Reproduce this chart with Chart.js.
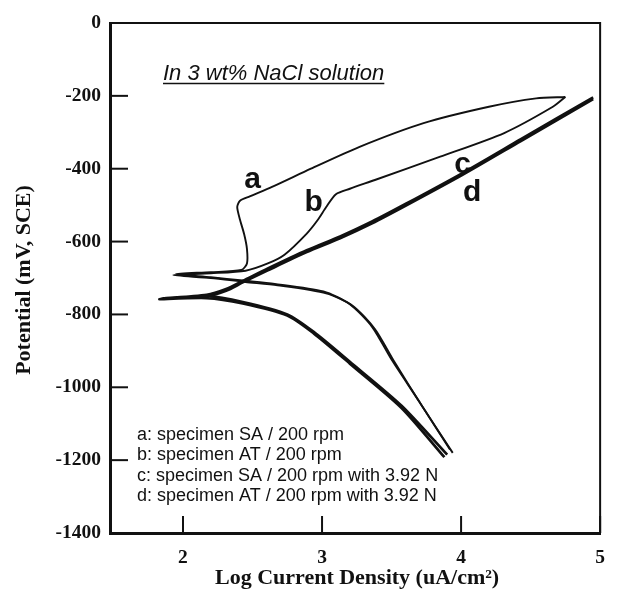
<!DOCTYPE html>
<html>
<head>
<meta charset="utf-8">
<script src="https://cdn.jsdelivr.net/npm/chart.js@4.4.0/dist/chart.umd.min.js"></script>
<style>
  html, body { margin: 0; padding: 0; background: #fff; }
  #wrap { width: 618px; height: 591px; position: relative; }
</style>
</head>
<body>
<div id="wrap"><canvas id="chart" width="618" height="591"></canvas></div>
<script>
// --- axis ticks ---
const xTicks = [2, 3, 4, 5];
const yTicks = [0, -200, -400, -600, -800, -1000, -1200, -1400];

// --- curve a: SA / 200 rpm (cathodic tail -> Ecorr -> anodic) ---
const aLogI = [3.92, 3.70, 3.50, 3.36, 3.20, 3.01, 2.66, 2.43, 2.20, 1.95,
               2.20, 2.42, 2.46, 2.46, 2.44, 2.41, 2.39, 2.41, 2.48, 2.64, 2.92, 3.27, 3.73, 4.20, 4.54, 4.75];
const aE    = [-1171, -1040, -924, -834, -772, -737, -716, -707, -698, -689,
               -684, -678, -660, -620, -580, -540, -505, -488, -476, -450, -400, -340, -275, -230, -207, -203];

// --- curve b: AT / 200 rpm ---
const bLogI = [3.94, 3.72, 3.52, 3.38, 3.22, 3.03, 2.68, 2.45, 2.20, 1.93,
               2.20, 2.45, 2.61, 2.73, 2.89, 2.97, 3.03, 3.10, 3.20, 3.38, 3.85, 4.31, 4.66, 4.75];
const bE    = [-1180, -1052, -930, -840, -776, -742, -720, -711, -700, -692,
               -687, -680, -660, -636, -578, -540, -505, -470, -455, -431, -367, -302, -230, -203];

// --- curve c: SA / 200 rpm with 3.92 N ---
const cLogI = [3.90, 3.57, 3.20, 2.94, 2.75, 2.43, 2.17, 1.85,
               2.17, 2.31, 2.43, 2.61, 2.89, 3.13, 3.36, 3.60, 4.01, 4.43, 4.95];
const cE    = [-1185, -1050, -930, -848, -800, -766, -750, -756,
               -746, -730, -708, -674, -624, -586, -545, -497, -412, -319, -204];

// --- curve d: AT / 200 rpm with 3.92 N ---
const dLogI = [3.88, 3.57, 3.20, 2.94, 2.75, 2.43, 2.17, 1.83,
               2.17, 2.31, 2.43, 2.61, 2.89, 3.13, 3.36, 3.60, 4.01, 4.43, 4.95];
const dE    = [-1192, -1056, -935, -852, -803, -770, -755, -758,
               -750, -735, -712, -679, -629, -591, -550, -502, -417, -324, -209];

// curve letters, placed in data units
const curveLabels = [
  { t: 'a', x: 2.50, y: -431 },
  { t: 'b', x: 2.94, y: -494 },
  { t: 'c', x: 4.01, y: -390 },
  { t: 'd', x: 4.08, y: -466 }
];

const legendLines = [
  'a: specimen SA / 200 rpm',
  'b: specimen AT / 200 rpm',
  'c: specimen SA / 200 rpm with 3.92 N',
  'd: specimen AT / 200 rpm with 3.92 N'
];

const SERIF = '"Liberation Serif", "Times New Roman", serif';
const SANS = '"Liberation Sans", Arial, sans-serif';

const toPts = (xs, ys) => xs.map((x, i) => ({ x: x, y: ys[i] }));

const line = (pts, w) => ({
  data: pts,
  showLine: true,
  borderColor: '#111',
  borderWidth: w,
  pointRadius: 0,
  tension: 0.25,
  fill: false
});

// ticks pointing inwards + top/right frame + texts
const decorPlugin = {
  id: 'decor',
  afterDraw(chart) {
    const { ctx, chartArea: ca, scales: { x, y } } = chart;
    ctx.save();
    ctx.strokeStyle = '#111';

    // top + right frame
    ctx.lineWidth = 2;
    ctx.beginPath();
    ctx.moveTo(ca.left, ca.top);
    ctx.lineTo(ca.right, ca.top);
    ctx.lineTo(ca.right, ca.bottom);
    ctx.stroke();

    // inner ticks
    ctx.lineWidth = 2;
    xTicks.forEach(v => {
      const px = x.getPixelForValue(v);
      ctx.beginPath();
      ctx.moveTo(px, ca.bottom);
      ctx.lineTo(px, ca.bottom - 17);
      ctx.stroke();
    });
    yTicks.forEach(v => {
      const py = y.getPixelForValue(v);
      ctx.beginPath();
      ctx.moveTo(ca.left, py);
      ctx.lineTo(ca.left + 18, py);
      ctx.stroke();
    });

    // curve letters
    ctx.fillStyle = '#111';
    ctx.font = 'bold 30px ' + SANS;
    ctx.textAlign = 'center';
    ctx.textBaseline = 'middle';
    curveLabels.forEach(l => ctx.fillText(l.t, x.getPixelForValue(l.x), y.getPixelForValue(l.y)));

    // solution note (italic, underlined)
    ctx.font = 'italic 22px ' + SANS;
    ctx.textAlign = 'left';
    ctx.textBaseline = 'alphabetic';
    const note = 'In 3 wt% NaCl solution';
    const nx = ca.left + 53, ny = ca.top + 57;
    ctx.fillText(note, nx, ny);
    ctx.lineWidth = 1.3;
    ctx.beginPath();
    ctx.moveTo(nx, ny + 3.5);
    ctx.lineTo(nx + ctx.measureText(note).width, ny + 3.5);
    ctx.stroke();

    // legend block
    ctx.font = '18px ' + SANS;
    ctx.textBaseline = 'middle';
    legendLines.forEach((s, i) => ctx.fillText(s, ca.left + 27, ca.top + 412 + i * 20.5));

    // axis titles
    ctx.font = 'bold 22px ' + SERIF;
    ctx.textAlign = 'center';
    ctx.fillText('Log Current Density (uA/cm\u00B2)', (ca.left + ca.right) / 2 + 2, 578);
    ctx.translate(24, 280);
    ctx.rotate(-Math.PI / 2);
    ctx.fillText('Potential (mV, SCE)', 0, 0);
    ctx.restore();
  }
};

new Chart(document.getElementById('chart'), {
  type: 'scatter',
  data: {
    datasets: [
      line(toPts(aLogI, aE), 1.9),
      line(toPts(bLogI, bE), 1.9),
      line(toPts(cLogI, cE), 2.7),
      line(toPts(dLogI, dE), 2.7)
    ]
  },
  options: {
    responsive: false,
    animation: false,
    layout: { padding: { top: 23, right: 5, left: 0, bottom: 0 } },
    plugins: { legend: { display: false }, tooltip: { enabled: false } },
    scales: {
      x: {
        type: 'linear',
        min: 1.475,
        max: 5,
        afterBuildTicks: s => { s.ticks = xTicks.map(v => ({ value: v })); },
        afterFit: s => { s.height = 58; },
        grid: { display: false, drawTicks: false },
        border: { display: true, color: '#111', width: 3 },
        ticks: {
          padding: 13,
          color: '#111',
          callback: v => String(v),
          font: { family: SERIF, size: 19.5, weight: 'bold' }
        }
      },
      y: {
        min: -1400,
        max: 0,
        afterBuildTicks: s => { s.ticks = yTicks.map(v => ({ value: v })); },
        afterFit: s => { s.width = 110; },
        grid: { display: false, drawTicks: false },
        border: { display: true, color: '#111', width: 3 },
        ticks: {
          padding: 9,
          color: '#111',
          callback: v => String(v),
          font: { family: SERIF, size: 19.5, weight: 'bold' }
        }
      }
    }
  },
  plugins: [decorPlugin]
});
</script>
</body>
</html>
